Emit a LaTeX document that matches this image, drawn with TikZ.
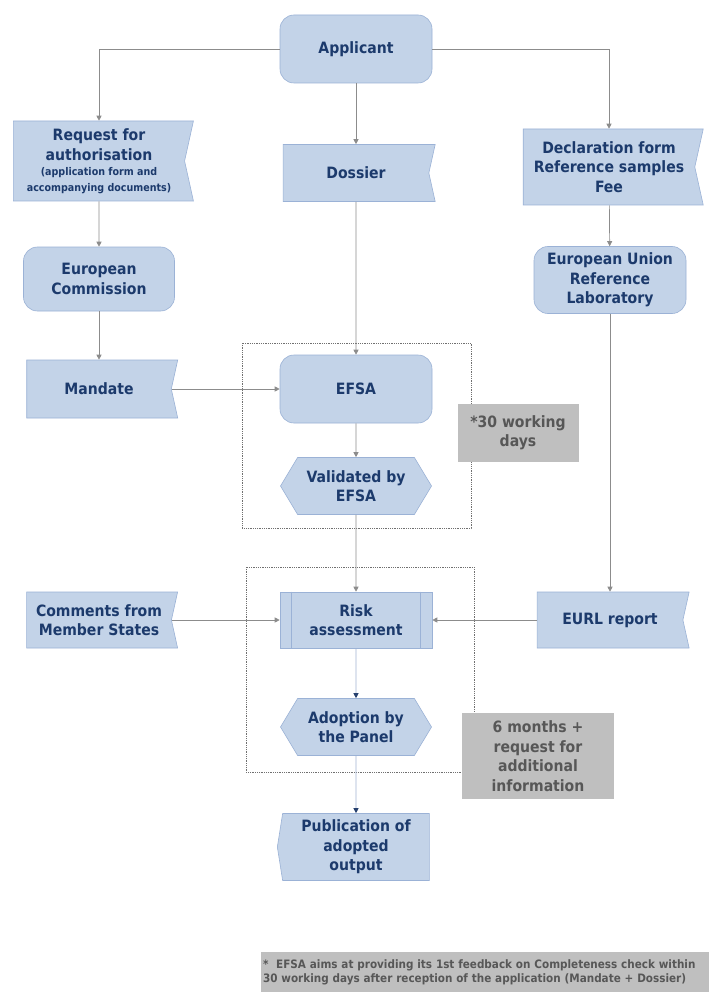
\documentclass[tikz,border=0pt]{standalone}
\usepackage{fontspec}
\setmainfont{DejaVu Sans Condensed}
\usepackage{xcolor}
\usetikzlibrary{arrows.meta, shapes.symbols}

\definecolor{boxblue}{HTML}{C3D3E8}
\definecolor{edgeblue}{HTML}{9BB2D6}
\definecolor{textblue}{HTML}{1C3A6C}
\definecolor{linegray}{HTML}{8C8C8C}
\definecolor{lineblue}{HTML}{A3B5D2}
\definecolor{tipnavy}{HTML}{27416F}
\definecolor{notegray}{HTML}{BFBFBF}
\definecolor{notetext}{HTML}{575757}
\definecolor{framegray}{HTML}{707070}

\newcommand{\boxtext}{\fontsize{15.6}{19.5}\selectfont\bfseries}
\newcommand{\smalltext}{\fontsize{10.6}{17}\selectfont\bfseries}
\newcommand{\foottext}{\fontsize{11.6}{14}\selectfont\bfseries}

\begin{document}
\begin{tikzpicture}[
      x=1pt, y=-1pt,
      box/.style={draw=edgeblue, fill=boxblue, text=textblue, font=\boxtext, align=center, inner sep=2pt, line width=0.6pt},
      round/.style={box, rectangle, rounded corners=14pt},
      flag/.style={box, signal, signal to=nowhere, signal from=east, signal pointer angle=155},
      hexa/.style={box, signal, signal to=east and west, signal pointer angle=118},
      proc/.style={box, rectangle},
      note/.style={fill=notegray, text=notetext, font=\boxtext, align=center, inner sep=2pt},
      arrow/.style={draw=linegray, line width=0.7pt, -{Triangle[length=5pt, width=5pt]}},
      darrow/.style={draw=lineblue, line width=0.7pt, -{Triangle[length=5pt, width=5pt, color=tipnavy]}},
      frame/.style={draw=framegray, densely dotted, line width=0.8pt},
    ]
    \path[use as bounding box, fill=white] (0,0) rectangle (709,992);

    % dotted time frames
    \draw[frame] (242,343) rectangle (471,528);
    \draw[frame] (246,567) rectangle (474,772);

    \node[round, minimum width=152, minimum height=68] (app) at (356,49) {Applicant};
    \node[flag, minimum width=180, minimum height=80] (req) at (99,161) {Request for\\ authorisation\\[-4pt] {\smalltext (application form and}\\[-4pt] {\smalltext accompanying documents)}};
    \node[flag, minimum width=152, minimum height=57] (dossier) at (356,173) {Dossier};
    \node[flag, minimum width=180, minimum height=76] (decl) at (609,167) {Declaration form\\ Reference samples\\ Fee};
    \node[round, minimum width=151, minimum height=64] (ec) at (99,279) {European\\ Commission};
    \node[round, minimum width=152, minimum height=67] (lab) at (610,280) {European Union\\ Reference\\ Laboratory};
    \node[flag, minimum width=151, minimum height=58] (mandate) at (99,389) {Mandate};
    \node[round, minimum width=152, minimum height=68] (efsa) at (356,389) {EFSA};
    \node[note, minimum width=121, minimum height=58] (days) at (518,433) {*30 working\\ days};
    \node[hexa, minimum width=151, minimum height=57] (valid) at (356,486) {Validated by\\ EFSA};
    \node[flag, minimum width=151, minimum height=56] (comments) at (99,620) {Comments from\\ Member States};
    \node[proc, minimum width=152, minimum height=56] (risk) at (356,620) {Risk\\ assessment};
    \node[flag, minimum width=152, minimum height=56] (eurl) at (610,620) {EURL report};
    \node[hexa, minimum width=151, minimum height=57] (adopt) at (356,727) {Adoption by\\ the Panel};
    \node[note, minimum width=152, minimum height=86] (months) at (538,756) {6 months +\\ request for\\ additional\\ information};
    \node[box, signal, signal to=west, signal pointer angle=162, minimum width=152, minimum height=67] (publ) at (356,847) {Publication of\\ adopted\\ output};
    \node[note, font=\foottext, align=left, text width=444, minimum width=448, minimum height=40] (foot) at (485,972) {*\ \ EFSA aims at providing its 1st feedback on Completeness check within\\ 30 working days after reception of the application (Mandate + Dossier)};

    \draw[edgeblue, line width=0.6pt] ([xshift=12]risk.north west) -- ([xshift=12]risk.south west);
    \draw[edgeblue, line width=0.6pt] ([xshift=-12]risk.north east) -- ([xshift=-12]risk.south east);

    \draw[arrow] (app.west) -| (req.north);
    \draw[arrow] (app.east) -| (decl.north);
    \draw[arrow] (app) -- (dossier);
    \draw[arrow] (req) -- (ec);
    \draw[arrow] (ec) -- (mandate);
    \draw[arrow] (decl) -- (lab);
    \draw[arrow] (dossier) -- (efsa);
    \draw[arrow] (mandate.east) -- (mandate.east -| efsa.west);
    \draw[arrow] (efsa) -- (valid);
    \draw[arrow] (valid) -- (risk);
    \draw[arrow] (lab) -- (eurl);
    \draw[arrow] (comments.east) -- (comments.east -| risk.west);
    \draw[arrow] (eurl.west) -- (eurl.west -| risk.east);
    \draw[darrow] (risk) -- (adopt);
    \draw[darrow] (adopt) -- (publ);
  \end{tikzpicture}
\end{document}
